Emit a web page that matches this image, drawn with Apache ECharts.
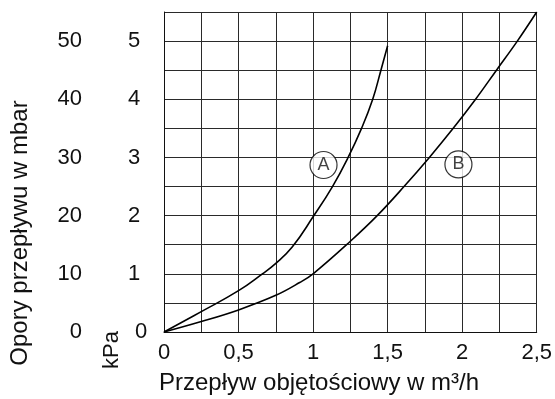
<!DOCTYPE html>
<html>
<head>
<meta charset="utf-8">
<script src="https://cdn.jsdelivr.net/npm/echarts@6/dist/echarts.min.js"></script>
<style>
  html, body { margin: 0; padding: 0; background: #fff; }
  #chart { width: 555px; height: 399px; }
</style>
</head>
<body>
<div id="chart"></div>
<script>
// Flow rate (m³/h) vs. pressure loss (kPa); mbar = kPa × 10
const curveA = [
  [0, 0], [0.25, 0.35], [0.5, 0.71], [0.66, 1.0], [0.75, 1.18], [0.86, 1.46],
  [1.0, 1.98], [1.13, 2.5], [1.235, 3.0], [1.325, 3.5], [1.40, 4.0],
  [1.455, 4.5], [1.5, 4.92]
];
const curveB = [
  [0, 0], [0.25, 0.18], [0.5, 0.38], [0.75, 0.63], [0.91, 0.85],
  [1.0, 1.0], [1.25, 1.56], [1.43, 2.0], [1.61, 2.5], [1.78, 3.0],
  [1.94, 3.5], [2.09, 4.0], [2.23, 4.5], [2.37, 5.0], [2.5, 5.5]
];
const curveTags = [
  { name: 'A', value: [1.07, 2.87] },
  { name: 'B', value: [1.975, 2.88] }
];
const xTickLabels = { 0: '0', 0.5: '0,5', 1: '1', 1.5: '1,5', 2: '2', 2.5: '2,5' };

const FONT = 'Liberation Sans, Arial, sans-serif';
const INK = '#111';
const isWhole = v => Math.abs(v - Math.round(v)) < 1e-9;

const chart = echarts.init(document.getElementById('chart'), null, { renderer: 'canvas' });

chart.setOption({
  animation: false,
  grid: { left: 164, right: 18, top: 12, bottom: 67 },
  xAxis: {
    type: 'value', min: 0, max: 2.5, interval: 0.25,
    axisLine: { show: true, lineStyle: { color: INK, width: 1 } },
    axisTick: { show: false },
    splitLine: { show: true, lineStyle: { color: '#2a2a2a', width: 1 } },
    axisLabel: {
      margin: 10, color: INK, fontFamily: FONT, fontSize: 22,
      formatter: v => (xTickLabels[v] !== undefined ? xTickLabels[v] : '')
    }
  },
  yAxis: [
    {
      // kPa scale next to the plot
      type: 'value', min: 0, max: 5.5, interval: 0.5, position: 'left',
      axisLine: { show: true, lineStyle: { color: INK, width: 1 } },
      axisTick: { show: false },
      splitLine: { show: true, lineStyle: { color: '#2a2a2a', width: 1 } },
      axisLabel: {
        margin: 36, align: 'left', color: INK, fontFamily: FONT, fontSize: 22,
        formatter: v => (isWhole(v) ? (Math.round(v) === 0 ? '{z|0}' : String(Math.round(v))) : ''),
        rich: { z: { padding: [0, 0, 0, 7], fontFamily: FONT, fontSize: 22, color: INK } }
      }
    },
    {
      // mbar scale further out
      type: 'value', min: 0, max: 5.5, interval: 0.5, position: 'left',
      axisLine: { show: false }, axisTick: { show: false }, splitLine: { show: false },
      axisLabel: {
        margin: 82, color: INK, fontFamily: FONT, fontSize: 22,
        formatter: v => (isWhole(v) ? String(Math.round(v) * 10) : '')
      }
    }
  ],
  series: [
    {
      type: 'line', data: curveA, smooth: 0.45, symbol: 'none',
      lineStyle: { color: '#000', width: 1.6 }
    },
    {
      type: 'line', data: curveB, smooth: 0.4, symbol: 'none',
      lineStyle: { color: '#000', width: 1.6 }
    },
    {
      type: 'scatter', data: curveTags, symbol: 'circle', symbolSize: 27, z: 5,
      itemStyle: { color: '#fff', borderColor: '#000', borderWidth: 1.2 },
      label: {
        show: true, position: 'inside', formatter: p => p.name,
        color: INK, fontFamily: FONT, fontSize: 18
      }
    }
  ],
  graphic: [
    {
      type: 'text', x: 20, y: 233, rotation: Math.PI / 2,
      style: {
        text: 'Opory przepływu w mbar', font: '24px ' + FONT, fill: INK,
        align: 'center', verticalAlign: 'middle'
      }
    },
    {
      type: 'text', x: 112, y: 350, rotation: Math.PI / 2,
      style: {
        text: 'kPa', font: '22px ' + FONT, fill: INK,
        align: 'center', verticalAlign: 'middle'
      }
    },
    {
      type: 'text', x: 159, y: 383,
      style: {
        text: 'Przepływ objętościowy w m³/h', font: '24px ' + FONT, fill: INK,
        align: 'left', verticalAlign: 'middle'
      }
    }
  ]
});
</script>
</body>
</html>
